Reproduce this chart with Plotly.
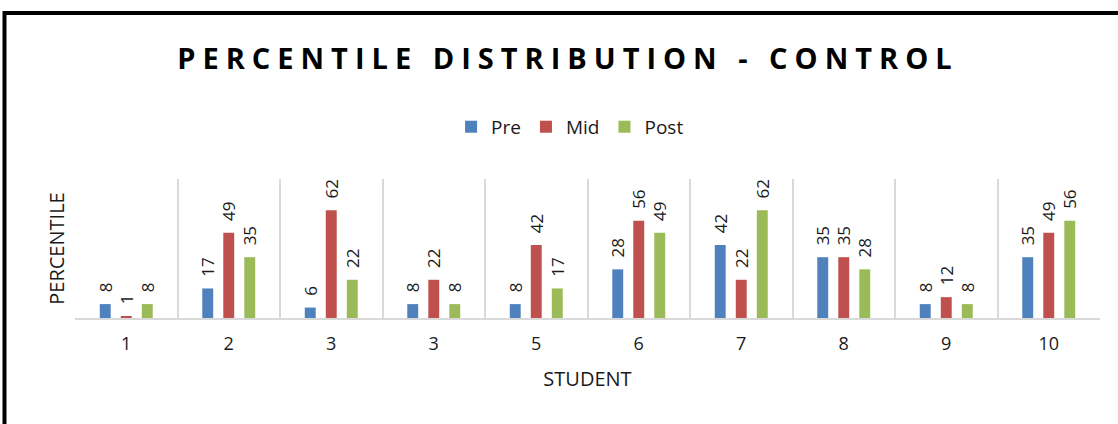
import plotly.graph_objects as go

students = ["1", "2", "3", "3", "5", "6", "7", "8", "9", "10"]
pre = [8, 17, 6, 8, 8, 28, 42, 35, 8, 35]
mid = [1, 49, 62, 22, 42, 56, 22, 35, 12, 49]
post = [8, 35, 22, 8, 17, 49, 62, 28, 8, 56]

series = [("Pre", pre, "#4F81BD"), ("Mid", mid, "#C0504D"), ("Post", post, "#9BBB59")]
xpos = list(range(len(students)))

FONT = "Open Sans"
fig = go.Figure()
for name, vals, col in series:
    fig.add_trace(go.Bar(
        name=name, x=xpos, y=vals, marker_color=col, marker_line_width=0,
        text=vals, textposition="outside", textangle=-90, cliponaxis=False,
        constraintext="none",
        texttemplate="\u00a0\u00a0%{y}",
        textfont=dict(family=FONT, size=17, color="#1a1a1a"),
    ))

fig.update_layout(
    width=1118, height=424,
    margin=dict(l=75, r=18, t=179, b=106),
    paper_bgcolor="white", plot_bgcolor="white",
    barmode="group", bargap=0.385, bargroupgap=0.48,
    font=dict(family=FONT, color="#1a1a1a"),
    title=dict(text="<b>PERCENTILE DISTRIBUTION - CONTROL</b>",
               x=0.508, xanchor="center", y=0.862, yanchor="middle",
               font=dict(family=FONT, size=29, color="black")),
    legend=dict(orientation="h", x=0.483, xanchor="center", y=1.375, yanchor="middle",
                font=dict(family=FONT, size=19), itemwidth=30, traceorder="normal"),
    showlegend=True,
)
fig.update_xaxes(
    tickmode="array", tickvals=xpos, ticktext=students,
    range=[-0.5, len(students) - 0.5],
    showgrid=False, showline=True, linecolor="#d9d9d9", linewidth=1.5,
    ticks="", tickfont=dict(family=FONT, size=18), ticklabelstandoff=9,
    minor=dict(tickmode="array", tickvals=[i - 0.5 for i in range(len(students) + 1)],
               showgrid=True, gridcolor="#d9d9d9", gridwidth=1.5, ticks=""),
    title=dict(text="STUDENT", font=dict(family=FONT, size=20), standoff=18),
)
fig.update_yaxes(
    range=[0, 80], showgrid=False, showticklabels=False, ticks="", zeroline=False,
    title=dict(text="PERCENTILE", font=dict(family=FONT, size=20), standoff=4),
)
fig.add_shape(type="rect", xref="paper", yref="paper",
              x0=(4.5 - 75) / 1025, x1=1.2, y0=-3, y1=(318 - 13) / 139,
              line=dict(color="black", width=4), fillcolor="rgba(0,0,0,0)", layer="above")

post_js = (
    "document.body.style.margin='0';"
    "document.querySelectorAll('.gtitle').forEach(function(e){e.style.letterSpacing='7px';});"
)
fig.write_html("out.html", post_script=post_js, config={"displayModeBar": False})
